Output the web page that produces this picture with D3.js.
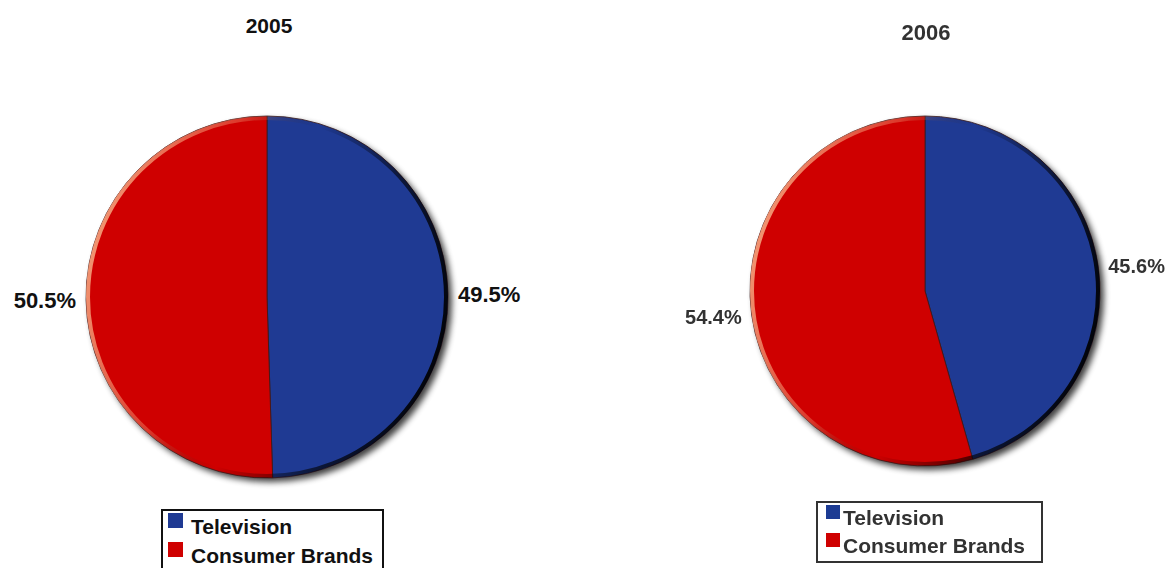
<!DOCTYPE html>
<html>
<head>
<meta charset="utf-8">
<script src="https://cdn.jsdelivr.net/npm/d3@7"></script>
<style>
  html, body { margin: 0; padding: 0; background: #fff; }
  svg { display: block; font-family: "Liberation Sans", Arial, sans-serif; }
</style>
</head>
<body>
<svg id="chart" width="1173" height="568"></svg>
<script>
// ---- data ----
const categories = ["Television", "Consumer Brands"];
const years = ["2005", "2006"];
const values2005 = [49.5, 50.5];
const values2006 = [45.6, 54.4];
const labels2005 = ["49.5%", "50.5%"];
const labels2006 = ["45.6%", "54.4%"];

const colors = d3.scaleOrdinal().domain(categories).range(["#1f3a93", "#cf0000"]);

const svg = d3.select("#chart");
const defs = svg.append("defs");

defs.append("filter").attr("id", "blur").attr("x", "-20%").attr("y", "-20%").attr("width", "140%").attr("height", "140%")
  .append("feGaussianBlur").attr("stdDeviation", 3);
defs.append("filter").attr("id", "soft")
  .append("feGaussianBlur").attr("stdDeviation", 0.6);

const rim = defs.append("linearGradient").attr("id", "rim")
  .attr("x1", 0).attr("y1", 0.35).attr("x2", 1).attr("y2", 0.65);
rim.append("stop").attr("offset", 0).attr("stop-color", "#f4a07a").attr("stop-opacity", 0.95);
rim.append("stop").attr("offset", 0.3).attr("stop-color", "#f4a07a").attr("stop-opacity", 0.35);
rim.append("stop").attr("offset", 0.5).attr("stop-color", "#000").attr("stop-opacity", 0);
rim.append("stop").attr("offset", 0.75).attr("stop-color", "#000").attr("stop-opacity", 0.6);
rim.append("stop").attr("offset", 1).attr("stop-color", "#000").attr("stop-opacity", 0.95);

const panels = [
  { year: years[0], values: values2005, labels: labels2005, cx: 267, cy: 297, r: 181,
    titleX: 269, titleY: 33, titleSize: 21, titleFill: "#111", labelSize: 22, labelFill: "#111", soft: false,
    legend: { x: 162, y: 510, w: 221, h: 70, sw: 15, sx: 168, rows: [527, 556], tx: 191, size: 21, fill: "#111" } },
  { year: years[1], values: values2006, labels: labels2006, cx: 925, cy: 291, r: 175,
    titleX: 926, titleY: 40, titleSize: 22, titleFill: "#333", labelSize: 20, labelFill: "#333", soft: true,
    legend: { x: 817, y: 502, w: 225, h: 60, sw: 14, sx: 826, rows: [518, 546], tx: 843, size: 21, fill: "#333" } }
];

const pie = d3.pie().sort(null).value(d => d.value);

panels.forEach(p => {
  const g = svg.append("g").attr("transform", `translate(${p.cx},${p.cy})`);
  const data = categories.map((c, i) => ({ cat: c, value: p.values[i], label: p.labels[i] }));
  const arcs = pie(data);
  const arc = d3.arc().innerRadius(0).outerRadius(p.r);

  // drop shadow
  g.append("circle").attr("cx", 4).attr("cy", 4).attr("r", p.r)
    .attr("fill", "#000").attr("opacity", 0.75).attr("filter", "url(#blur)");

  // slices
  g.selectAll("path.slice").data(arcs).join("path")
    .attr("class", "slice")
    .attr("d", arc)
    .attr("fill", d => colors(d.data.cat))
    .attr("stroke", "#3a1a1a").attr("stroke-width", 0.8);

  // rim lighting
  g.append("circle").attr("r", p.r - 2)
    .attr("fill", "none").attr("stroke", "url(#rim)").attr("stroke-width", 4);

  // labels
  const lr = p.r + 10;
  g.selectAll("text.lbl").data(arcs).join("text")
    .attr("class", "lbl")
    .each(function(d) {
      const a = (d.startAngle + d.endAngle) / 2;
      const x = Math.sin(a) * lr, y = -Math.cos(a) * lr;
      d3.select(this).attr("x", x).attr("y", y).attr("dy", "0.36em")
        .attr("text-anchor", x >= 0 ? "start" : "end");
    })
    .attr("font-size", p.labelSize).attr("font-weight", "bold").attr("fill", p.labelFill)
    .attr("filter", p.soft ? "url(#soft)" : null)
    .text(d => d.data.label);

  // title
  svg.append("text").attr("x", p.titleX).attr("y", p.titleY)
    .attr("text-anchor", "middle").attr("font-size", p.titleSize).attr("font-weight", "bold")
    .attr("fill", p.titleFill).attr("filter", p.soft ? "url(#soft)" : null)
    .text(p.year);

  // legend
  const L = p.legend;
  const lg = svg.append("g");
  lg.append("rect").attr("x", L.x).attr("y", L.y).attr("width", L.w).attr("height", L.h)
    .attr("fill", "#fff").attr("stroke", p.soft ? "#333" : "#111").attr("stroke-width", 2);
  categories.forEach((c, i) => {
    lg.append("rect").attr("x", L.sx).attr("y", L.rows[i] - L.sw + 1).attr("width", L.sw).attr("height", L.sw)
      .attr("fill", colors(c)).attr("filter", p.soft ? "url(#soft)" : null);
    lg.append("text").attr("x", L.tx).attr("y", L.rows[i] + 7)
      .attr("font-size", L.size).attr("font-weight", "bold").attr("fill", L.fill)
      .attr("filter", p.soft ? "url(#soft)" : null)
      .text(c);
  });
});
</script>
</body>
</html>
